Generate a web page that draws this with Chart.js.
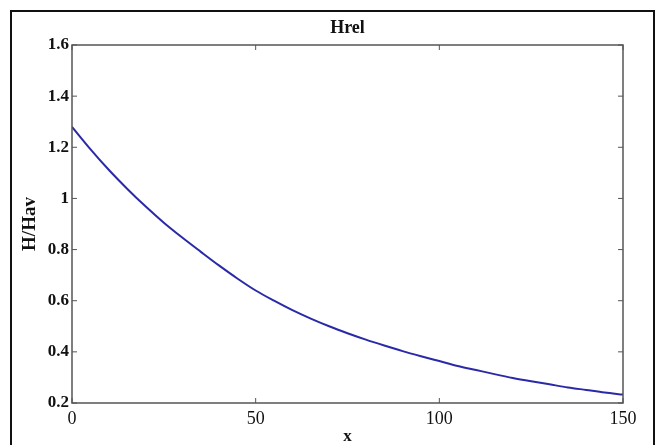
<!DOCTYPE html>
<html>
<head>
<meta charset="utf-8">
<script src="https://cdn.jsdelivr.net/npm/chart.js@4.4.1/dist/chart.umd.min.js"></script>
<style>
  body { margin: 0; background: #fff; overflow: hidden; }
  #wrap { position: relative; width: 660px; height: 445px; }
  #frame { position: absolute; left: 10px; top: 10px; width: 645px; height: 460px; border: 2px solid #111; box-sizing: border-box; }
  canvas { position: absolute; left: 0; top: 0; }
</style>
</head>
<body>
<div id="wrap">
  <div id="frame"></div>
  <canvas id="chart" width="660" height="445"></canvas>
</div>
<script>
// values
const xValues = [0, 5, 10, 15, 20, 25, 30, 35, 40, 45, 50, 55, 60, 65, 70, 75,
                 80, 85, 90, 95, 100, 105, 110, 115, 120, 125, 130, 135, 140, 145, 150];
const hRel = [1.28, 1.193, 1.112, 1.038, 0.969, 0.905, 0.847, 0.792, 0.738, 0.687, 0.640,
              0.600, 0.563, 0.530, 0.500, 0.473, 0.448, 0.425, 0.403, 0.383, 0.364,
              0.345, 0.329, 0.313, 0.298, 0.285, 0.273, 0.261, 0.251, 0.241, 0.233];
const xTicks = [0, 50, 100, 150];
const yTicks = [0.2, 0.4, 0.6, 0.8, 1, 1.2, 1.4, 1.6];

const axisColor = '#555';

// matlab style box with inward tick marks and the title
const boxPlugin = {
  id: 'box',
  afterDraw(chart) {
    const { ctx, chartArea: a, scales } = chart;
    ctx.save();
    ctx.strokeStyle = axisColor;
    ctx.lineWidth = 1.5;
    ctx.strokeRect(a.left, a.top, a.right - a.left, a.bottom - a.top);
    ctx.lineWidth = 1;
    const len = 5;
    ctx.beginPath();
    xTicks.forEach(v => {
      const px = scales.x.getPixelForValue(v);
      ctx.moveTo(px, a.bottom); ctx.lineTo(px, a.bottom - len);
      ctx.moveTo(px, a.top); ctx.lineTo(px, a.top + len);
    });
    yTicks.forEach(v => {
      const py = scales.y.getPixelForValue(v);
      ctx.moveTo(a.left, py); ctx.lineTo(a.left + len, py);
      ctx.moveTo(a.right, py); ctx.lineTo(a.right - len, py);
    });
    ctx.stroke();
    ctx.fillStyle = '#111';
    ctx.font = 'bold 18px "Liberation Serif"';
    ctx.textAlign = 'center';
    ctx.textBaseline = 'middle';
    ctx.fillText('Hrel', (a.left + a.right) / 2, 28);
    ctx.restore();
  }
};

new Chart(document.getElementById('chart'), {
  type: 'line',
  data: {
    datasets: [{
      data: xValues.map((x, i) => ({ x: x, y: hRel[i] })),
      borderColor: '#2a2aa8',
      borderWidth: 2,
      pointRadius: 0,
      cubicInterpolationMode: 'monotone',
      fill: false
    }]
  },
  options: {
    responsive: false,
    animation: false,
    devicePixelRatio: 1,
    layout: { padding: { top: 45, right: 37, left: 0, bottom: 0 } },
    plugins: { legend: { display: false }, tooltip: { enabled: false } },
    scales: {
      x: {
        type: 'linear',
        min: 0, max: 150,
        afterBuildTicks: s => { s.ticks = xTicks.map(v => ({ value: v })); },
        afterFit: s => { s.height = 42; },
        grid: { display: false, drawTicks: false },
        border: { display: false },
        ticks: { color: '#111', padding: 5, maxRotation: 0, autoSkip: false,
                 font: { family: 'Liberation Serif', size: 18 } },
        title: { display: true, text: 'x', color: '#111', padding: { top: 0, bottom: -2 },
                 font: { family: 'Liberation Serif', size: 17, weight: 'bold' } }
      },
      y: {
        min: 0.2, max: 1.6,
        afterBuildTicks: s => { s.ticks = yTicks.map(v => ({ value: v })); },
        afterFit: s => { s.width = 72; },
        grid: { display: false, drawTicks: false },
        border: { display: false },
        ticks: { color: '#111', padding: 3, autoSkip: false, callback: v => String(+v.toFixed(1)),
                 font: { family: 'Liberation Serif', size: 17, weight: 'bold' } },
        title: { display: true, text: 'H/Hav', color: '#111', padding: { top: 19, bottom: 0 },
                 font: { family: 'Liberation Serif', size: 19, weight: 'bold' } }
      }
    }
  },
  plugins: [boxPlugin]
});
</script>
</body>
</html>
